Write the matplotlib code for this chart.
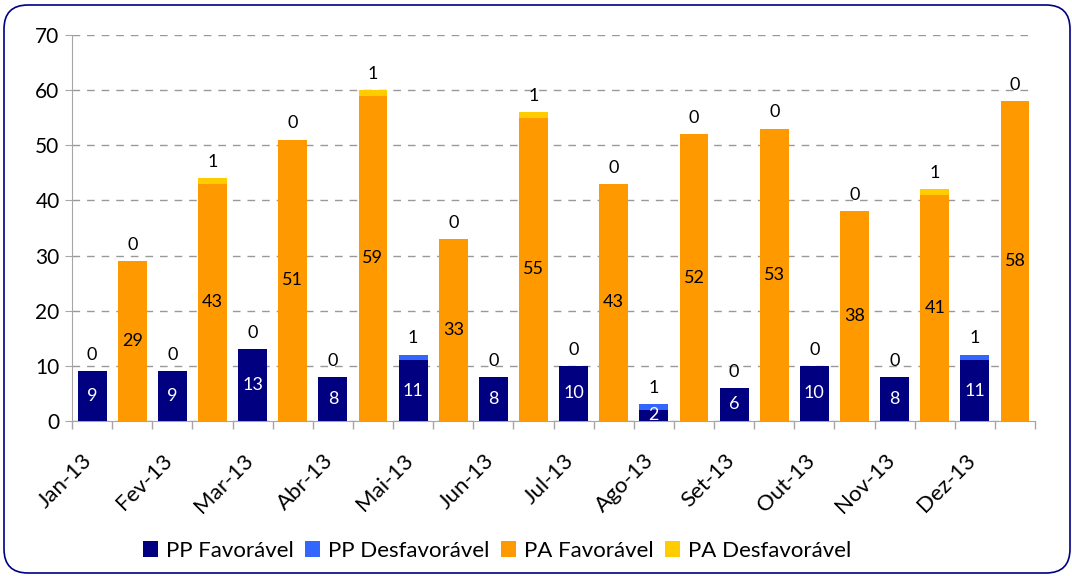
import matplotlib
matplotlib.use("Agg")
from matplotlib import pyplot as plt
from matplotlib.patches import FancyBboxPatch
import numpy as np

plt.rcParams['font.family'] = ['Lato', 'DejaVu Sans']

months = ['Jan-13', 'Fev-13', 'Mar-13', 'Abr-13', 'Mai-13', 'Jun-13',
          'Jul-13', 'Ago-13', 'Set-13', 'Out-13', 'Nov-13', 'Dez-13']
pp_fav = [9, 9, 13, 8, 11, 8, 10, 2, 6, 10, 8, 11]
pp_desf = [0, 0, 0, 0, 1, 0, 0, 1, 0, 0, 0, 1]
pa_fav = [29, 43, 51, 59, 33, 55, 43, 52, 53, 38, 41, 58]
pa_desf = [0, 1, 0, 1, 0, 1, 0, 0, 0, 0, 1, 0]

c_ppf = '#000080'
c_ppd = '#3366FF'
c_paf = '#FF9900'
c_pad = '#FFCC00'

fig = plt.figure(figsize=(10.72, 5.76), dpi=100)
ax = fig.add_axes([0.0672, 0.2691, 0.8983, 0.6701])

n = len(months)
x_pp = np.arange(n) * 2
x_pa = x_pp + 1
w = 0.72

b1 = ax.bar(x_pp, pp_fav, w, color=c_ppf, label='PP Favorável', zorder=3)
b2 = ax.bar(x_pp, pp_desf, w, bottom=pp_fav, color=c_ppd, label='PP Desfavorável', zorder=3)
b3 = ax.bar(x_pa, pa_fav, w, color=c_paf, label='PA Favorável', zorder=3)
b4 = ax.bar(x_pa, pa_desf, w, bottom=pa_fav, color=c_pad, label='PA Desfavorável', zorder=3)

ax.bar_label(b1, label_type='center', color='white', fontsize=13, zorder=4)
ax.bar_label(b3, label_type='center', color='black', fontsize=13, zorder=4)
for i in range(n):
    ax.annotate(str(pp_desf[i]), (x_pp[i], pp_fav[i] + pp_desf[i]), xytext=(0, 6),
                textcoords='offset points', ha='center', va='bottom', fontsize=13)
    ax.annotate(str(pa_desf[i]), (x_pa[i], pa_fav[i] + pa_desf[i]), xytext=(0, 6),
                textcoords='offset points', ha='center', va='bottom', fontsize=13)

ax.set_xlim(-0.5, 2 * n - 0.5)
ax.set_ylim(0, 70)
ax.set_yticks(range(0, 71, 10))
ax.yaxis.grid(True, linestyle=(0, (5.5, 5)), color='#999999', linewidth=1, zorder=0)

ax.set_xticks(np.arange(-0.5, 2 * n, 1))
ax.set_xticklabels([])
ax.set_xticks(x_pp - 0.25, minor=True)
ax.set_xticklabels(months, minor=True, rotation=45, ha='right', rotation_mode='anchor', fontsize=16)
ax.tick_params(axis='x', which='major', length=6, color='#a6a6a6', width=1)
ax.tick_params(axis='x', which='minor', length=0, pad=21)
ax.tick_params(axis='y', length=5, color='#a6a6a6', labelsize=15, pad=4)

for s in ['top', 'right']:
    ax.spines[s].set_visible(False)
ax.spines['left'].set_color('#a6a6a6')
ax.spines['bottom'].set_color('#a6a6a6')

fig.legend(handles=[b1, b2, b3, b4], loc='center', bbox_to_anchor=(497 / 1072, 1 - 551 / 576),
           ncol=4, frameon=False, fontsize=16, handlelength=0.7, handleheight=0.7,
           handletextpad=0.35, columnspacing=0.5)

border = FancyBboxPatch((4, 3), 1066, 568, boxstyle='round,pad=0,rounding_size=24',
                        transform=None, facecolor='none', edgecolor='#000080', linewidth=1.2)
fig.patches.append(border)

plt.savefig('out.png', dpi=100)
